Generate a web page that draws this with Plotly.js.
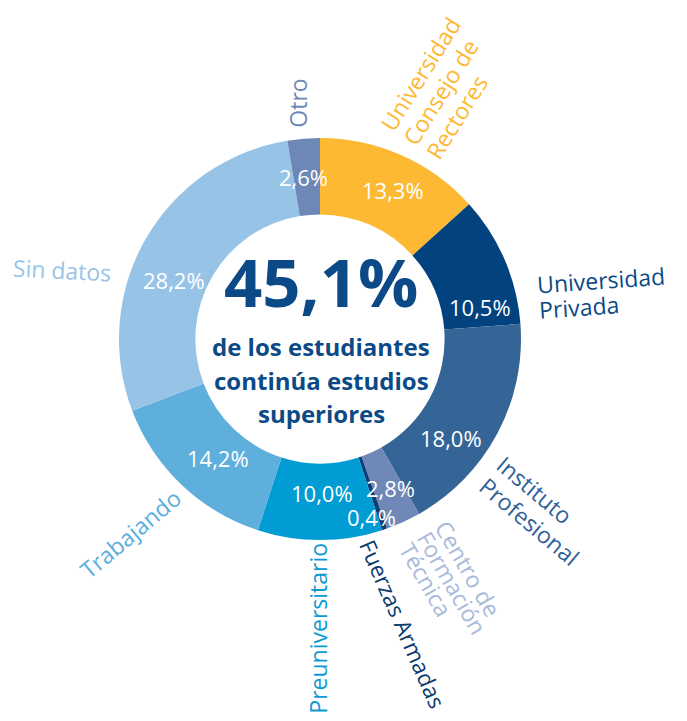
<!DOCTYPE html>
<html><head><meta charset="utf-8">
<script src="https://cdn.plot.ly/plotly-3.0.1.min.js"></script>
<style>html,body{margin:0;padding:0;background:#fff;} #chart{width:687px;height:721px;}</style>
</head><body><div id="chart"></div>
<script>
// ---- data ----
const categories = ["Universidad Consejo de Rectores","Universidad Privada","Instituto Profesional","Centro de Formación Técnica","Fuerzas Armadas","Preuniversitario","Trabajando","Sin datos","Otro"];
const shares = [13.3, 10.5, 18.0, 2.8, 0.4, 10.0, 14.2, 28.2, 2.6];
const shareLabels = ["13,3%","10,5%","18,0%","2,8%","0,4%","10,0%","14,2%","28,2%","2,6%"];
const labelLines = [["Universidad","Consejo de","Rectores"],["Universidad","Privada"],["Instituto","Profesional"],["Centro de","Formación","Técnica"],["Fuerzas Armadas"],["Preuniversitario"],["Trabajando"],["Sin datos"],["Otro"]];
const headline = "45,1%";
const subtitle = ["de los estudiantes","continúa estudios","superiores"];

// ---- styles / layout ----
const W = 687, H = 721, CX = 320, CY = 339, R = 201;
const sliceColors = ["#FDB933","#02427F","#356597","#7088B7","#0B3D73","#009CD3","#5FAFDD","#97C4E6","#6D88B7"];
const labelColors = ["#FDB933","#0B4A86","#2F6199","#A9B9DA","#0A3A6E","#0D9AD2","#5AAEDE","#97C5E7","#6C87B7"];
const pctNudge = [2, 12, 9, -1, 2.6, -0.7, -3, -8, -1.3];
const pctRadius = [166, 163, 164, 165, 185, 154, 157, 157, 163];
const outerPos = [
  {a:17.4, r:221, rot:-58, gap:27, size:23},
  {a:76.0, r:224, rot:-4, gap:25, size:23},
  {a:124.0, r:218, rot:40, gap:28, size:23},
  {a:146.5, r:221, rot:60, gap:21, size:23},
  {a:167.0, r:208, rot:66.5, gap:0, size:22.5},
  {a:180.3, r:375, rot:-90, gap:0, size:23},
  {a:225.4, r:333, rot:-40, gap:0, size:23},
  {a:283.2, r:315, rot:3, gap:0, size:23},
  {a:353.8, r:212, rot:-90, gap:0, size:23}
];
const FONT = "Open Sans";
const pctSize = 22;

function polar(aDeg, r){ const a = aDeg*Math.PI/180; return [CX + r*Math.sin(a), CY - r*Math.cos(a)]; }
const cvs = document.createElement('canvas'); const ctx = cvs.getContext('2d');
function textW(t, size, weight){ ctx.font = (weight||'normal')+' '+size+'px "'+FONT+'"'; return ctx.measureText(t).width; }
function ann(px, py, text, size, color, rot, weight){
  return {x: px/W, y: 1-py/H, xref:'paper', yref:'paper', xanchor:'center', yanchor:'middle', showarrow:false,
    text: weight==='bold' ? '<b>'+text+'</b>' : text, textangle: rot||0,
    font:{family:FONT, size:size, color:color}};
}

const total = shares.reduce((s,v)=>s+v,0);
const annotations = [];
let cum = 0;
shares.forEach((v,i)=>{
  const mid = (cum + v/2)/total*360; cum += v;
  const [px,py] = polar(mid + pctNudge[i], pctRadius[i]);
  annotations.push(ann(px, py, shareLabels[i], pctSize, '#FFFFFF', 0));
  const o = outerPos[i];
  const [sx, sy] = polar(o.a, o.r);
  const t = o.rot*Math.PI/180, ux = Math.cos(t), uy = Math.sin(t), vx = -Math.sin(t), vy = Math.cos(t);
  labelLines[i].forEach((ln, k)=>{
    const w = textW(ln, o.size);
    const cxp = sx + k*o.gap*vx + (w/2)*ux, cyp = sy + k*o.gap*vy + (w/2)*uy;
    annotations.push(ann(cxp, cyp, ln, o.size, labelColors[i], o.rot));
  });
});
annotations.push(ann(321, 281, headline, 67, '#0B4A86', 0, 'bold'));
const subY = [346, 380, 413];
subtitle.forEach((s,k)=> annotations.push(ann(321, subY[k], s, 24, '#0B4A86', 0, 'bold')));

const trace = {
  type:'pie', values: shares, labels: categories, sort:false, direction:'clockwise', rotation:0,
  hole: 0.62, textinfo:'none', hoverinfo:'none', showlegend:false,
  marker:{colors: sliceColors, line:{width:0}},
  domain:{x:[(CX-R)/W, (CX+R)/W], y:[1-(CY+R)/H, 1-(CY-R)/H]}
};
Plotly.newPlot('chart', [trace], {
  width:W, height:H, margin:{l:0,r:0,t:0,b:0}, paper_bgcolor:'#fff', plot_bgcolor:'#fff',
  showlegend:false, annotations: annotations
}, {staticPlot:true});
</script></body></html>
